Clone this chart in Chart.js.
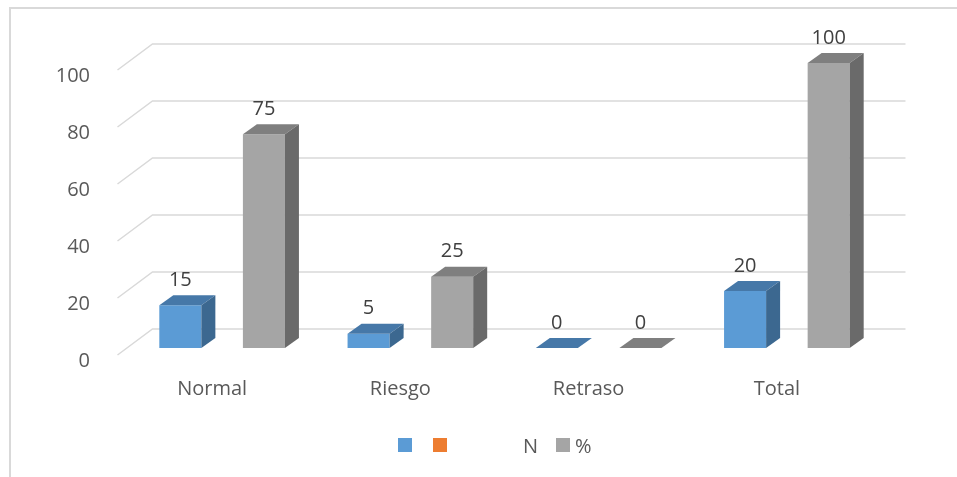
<!DOCTYPE html>
<html>
<head>
<meta charset="utf-8">
<script src="https://cdn.jsdelivr.net/npm/chart.js@4.4.0/dist/chart.umd.min.js"></script>
<style>
  body { margin: 0; background: #fff; }
  #wrap { position: relative; width: 957px; height: 477px; }
  #legend { position: absolute; left: 398px; top: 431px; height: 28px; display: flex; align-items: center;
            font: 20px "Open Sans", sans-serif; color: #595959; }
  #legend .box { width: 14px; height: 14px; display: inline-block; }
</style>
</head>
<body>
<div id="wrap">
  <canvas id="chart" width="957" height="477"></canvas>
  <div id="legend">
    <span class="box" style="background:#5B9BD5;margin-right:21px"></span>
    <span class="box" style="background:#ED7D31"></span>
    <span style="margin-left:76px">N</span>
    <span class="box" style="background:#A5A5A5;margin-left:18px"></span>
    <span style="margin-left:5px">%</span>
  </div>
</div>
<script>
const categories = ['Normal', 'Riesgo', 'Retraso', 'Total'];
const nValues = [15, 5, 0, 20];
const pctValues = [75, 25, 0, 100];
const yTicks = [0, 20, 40, 60, 80, 100];

// depth of the 3D bars
const DX = 14, DY = 10;

function poly(ctx, pts) {
    ctx.beginPath();
    ctx.moveTo(pts[0][0], pts[0][1]);
    for (let i = 1; i < pts.length; i++) ctx.lineTo(pts[i][0], pts[i][1]);
    ctx.closePath();
    ctx.fill();
}

const depthPlugin = {
    id: 'depth',
    beforeDraw(chart) {
        const ctx = chart.ctx;
        ctx.save();
        ctx.strokeStyle = '#D9D9D9';
        ctx.lineWidth = 2;
        ctx.beginPath();
        ctx.moveTo(10, 477);
        ctx.lineTo(10, 8);
        ctx.lineTo(957, 8);
        ctx.stroke();
        ctx.restore();
    },
    beforeDatasetsDraw(chart) {
        const { ctx, chartArea, scales: { y } } = chart;
        ctx.save();
        ctx.strokeStyle = '#D9D9D9';
        ctx.lineWidth = 1.5;
        y.ticks.forEach(t => {
            const py = y.getPixelForValue(t.value);
            ctx.beginPath();
            ctx.moveTo(chartArea.left - 10.5, py + 7);
            ctx.lineTo(chartArea.left + 24.5, py - 19);
            ctx.lineTo(chartArea.right + 24.5, py - 19);
            ctx.stroke();
        });
        ctx.restore();
    },
    afterDatasetsDraw(chart) {
        const ctx = chart.ctx;
        ctx.save();
        chart.data.datasets.forEach((ds, i) => {
            const meta = chart.getDatasetMeta(i);
            meta.data.forEach((bar, j) => {
                const l = bar.x - bar.width / 2, r = bar.x + bar.width / 2;
                const t = bar.y, b = bar.base;
                ctx.fillStyle = ds.topColor;
                poly(ctx, [[l, t], [r, t], [r + DX, t - DY], [l + DX, t - DY]]);
                if (b - t > 0.5) {
                    ctx.fillStyle = ds.sideColor;
                    poly(ctx, [[r, t], [r + DX, t - DY], [r + DX, b - DY], [r, b]]);
                }
                ctx.fillStyle = '#404040';
                ctx.font = '20px "Open Sans"';
                ctx.textAlign = 'center';
                ctx.textBaseline = 'middle';
                ctx.fillText(String(ds.data[j]), bar.x, t - DY - 15);
            });
        });
        ctx.restore();
    }
};

new Chart(document.getElementById('chart').getContext('2d'), {
    type: 'bar',
    data: {
        labels: categories,
        datasets: [{
            label: 'N',
            data: nValues,
            backgroundColor: '#5B9BD5',
            topColor: '#4678A8',
            sideColor: '#3C6890',
            categoryPercentage: 0.888,
            barPercentage: 0.503
        }, {
            label: '%',
            data: pctValues,
            backgroundColor: '#A5A5A5',
            topColor: '#7F7F7F',
            sideColor: '#6A6A6A',
            categoryPercentage: 0.888,
            barPercentage: 0.503
        }]
    },
    options: {
        responsive: false,
        animation: false,
        layout: { padding: { top: 63, right: 76, bottom: 0, left: 0 } },
        plugins: {
            legend: { display: false },
            tooltip: { enabled: false }
        },
        scales: {
            x: {
                grid: { display: false },
                border: { display: false },
                ticks: {
                    padding: 21,
                    labelOffset: -10,
                    color: '#595959',
                    font: { family: 'Open Sans', size: 20 }
                },
                afterFit: s => { s.height = 129; }
            },
            y: {
                min: 0,
                max: 100,
                afterBuildTicks: s => { s.ticks = yTicks.map(v => ({ value: v })); },
                grid: { display: false },
                border: { display: false },
                ticks: {
                    padding: 30,
                    labelOffset: 13,
                    color: '#595959',
                    font: { family: 'Open Sans', size: 20 }
                },
                afterFit: s => { s.width = 128; }
            }
        }
    },
    plugins: [depthPlugin]
});
</script>
</body>
</html>
